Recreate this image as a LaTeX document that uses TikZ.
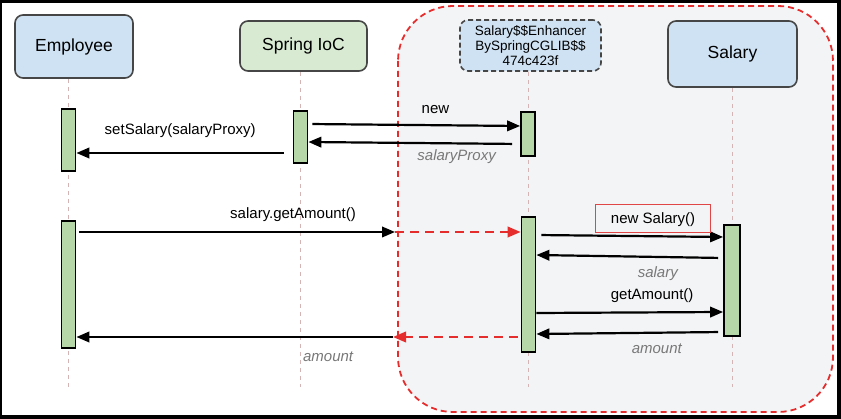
\documentclass[tikz,border=0pt]{standalone}
\usepackage{fontspec}
\setmainfont{Liberation Sans}
\usepackage{tikz}
\usetikzlibrary{shapes.geometric, arrows.meta, positioning, backgrounds}
\usepackage{xcolor}
\definecolor{headblue}{RGB}{207,226,243}
\definecolor{headgreen}{RGB}{217,234,211}
\definecolor{headborder}{RGB}{70,70,70}
\definecolor{barfill}{RGB}{182,215,168}
\definecolor{proxyred}{RGB}{230,45,45}
\definecolor{boxred}{RGB}{225,70,70}
\definecolor{regionfill}{RGB}{243,244,246}
\definecolor{lifecolor}{RGB}{212,180,180}
\definecolor{replygray}{RGB}{120,120,120}
\tikzstyle{head} = [rectangle, rounded corners=8pt, text centered, draw=headborder, line width=1.6pt, font=\fontsize{17.5}{19}\selectfont]
\tikzstyle{bar} = [rectangle, minimum width=14pt, inner sep=0pt, draw=black, line width=1.8pt, fill=barfill]
\tikzstyle{lifeline} = [draw=lifecolor, line width=0.8pt, dash pattern=on 4pt off 4pt]
\tikzstyle{arrow} = [line width=2.2pt, -{Triangle[length=13pt,width=10.5pt]}]
\tikzstyle{proxyarrow} = [arrow, draw=proxyred, dash pattern=on 9pt off 6pt]
\tikzstyle{call} = [font=\fontsize{15}{17}\selectfont, text height=11pt, text depth=3.5pt, inner sep=1pt]
\tikzstyle{reply} = [call, font=\fontsize{15}{17}\selectfont\itshape, text=replygray]

\begin{document}
\begin{tikzpicture}[x=1pt, y=-1pt]
\useasboundingbox (0,0) rectangle (841,419);

% Lifeline heads
\node (employee) [head, fill=headblue, minimum width=118pt, minimum height=63pt] at (74,46.5) {Employee};
\node (springioc) [head, fill=headgreen, minimum width=127pt, minimum height=50pt] at (303.5,46) {Spring IoC};
\node (proxy) [head, fill=headblue, dash pattern=on 5pt off 3pt, minimum width=141pt, minimum height=51pt, font=\fontsize{13.5}{15}\selectfont, align=center] at (530.5,45.5) {Salary\$\$Enhancer\\BySpringCGLIB\$\$\\474c423f};
\node (salary) [head, fill=headblue, minimum width=129pt, minimum height=66pt] at (732.5,54) {Salary};

% Activation bars
\node (empcall) [bar, minimum height=62pt] at (68.5,140) {};
\node (empget) [bar, minimum height=127pt] at (68.5,284.5) {};
\node (iocnew) [bar, minimum height=52pt] at (300.5,137) {};
\node (proxynew) [bar, minimum height=44pt] at (528,134) {};
\node (proxyget) [bar, minimum height=135pt] at (528.5,284.5) {};
\node (salaryget) [bar, minimum width=16pt, minimum height=111pt] at (732,280.5) {};

\coordinate (lifeend) at (0,387);
\coordinate (callsplit) at (395,232);
\coordinate (retsplit) at (393,337);

% Frame, proxy region and lifelines
\begin{scope}[on background layer]
\fill [black] (0,0) rectangle (841,419);
\fill [white] (2,3) rectangle (837,415);
\draw [draw=proxyred, fill=regionfill, line width=1.8pt, dash pattern=on 6pt off 4pt, rounded corners=55pt] (398,6) rectangle (833,412);
\draw [lifeline] (employee.south -| empcall) -- (lifeend -| empcall);
\draw [lifeline] (springioc.south -| iocnew) -- (lifeend -| iocnew);
\draw [lifeline] (proxy.south -| proxyget) -- (lifeend -| proxyget);
\draw [lifeline] (salary.south -| salaryget) -- (lifeend -| salaryget);
\end{scope}

% Creating the proxy
\draw [arrow, shorten <=4pt] ([yshift=13pt]iocnew.east) -- node[call, pos=0.6, anchor=south, yshift=6pt] {new} ([yshift=8pt]proxynew.west);
\draw [arrow, shorten <=8pt] ([yshift=-10pt]proxynew.west) -- node[reply, pos=0.3, anchor=north, yshift=-4.5pt] {salaryProxy} ([yshift=-5pt]iocnew.east);
\draw [arrow, shorten <=9pt] ([yshift=-16pt]iocnew.west) -- node[call, pos=0.52, anchor=south, yshift=12.5pt] {setSalary(salaryProxy)} ([yshift=-13pt]empcall.east);

% Call through the proxy
\draw [arrow, shorten <=3pt] (callsplit -| empget.east) -- node[call, pos=0.68, anchor=south, yshift=7.5pt] {salary.getAmount()} (callsplit);
\draw [proxyarrow] (callsplit) -- (callsplit -| proxyget.west);
\draw [arrow, shorten <=5pt] ([yshift=49.5pt]proxyget.east) -- node[call, pos=0.625, anchor=south, yshift=3.3pt, draw=boxred, line width=1.2pt, text depth=1pt, minimum width=115pt, minimum height=28pt] {new Salary()} ([yshift=43.5pt]salaryget.west);
\draw [arrow, shorten <=5pt] ([yshift=22.5pt]salaryget.west) -- node[reply, pos=0.35, anchor=north, yshift=-7.5pt] {salary} ([yshift=29.5pt]proxyget.east);
\draw [arrow] ([yshift=-28.5pt]proxyget.east) -- node[call, pos=0.62, anchor=south, yshift=7pt] {getAmount()} ([yshift=-31.5pt]salaryget.west);
\draw [arrow, shorten <=5pt] ([yshift=-51.5pt]salaryget.west) -- node[reply, pos=0.355, anchor=north, yshift=-8pt] {amount} ([yshift=-49.5pt]proxyget.east);

% Return to the caller
\draw [proxyarrow, shorten <=3pt] (retsplit -| proxyget.west) -- (retsplit);
\draw [arrow] (retsplit) -- node[reply, pos=0.205, anchor=north, yshift=-11pt] {amount} (retsplit -| empget.east);

\end{tikzpicture}
\end{document}
